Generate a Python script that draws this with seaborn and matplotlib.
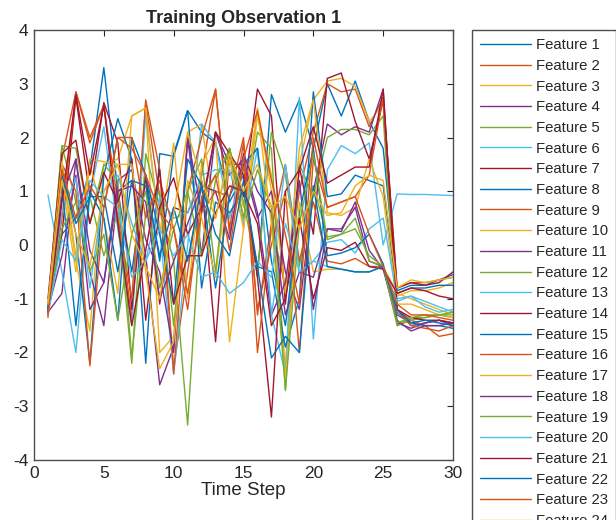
import numpy as np
import pandas as pd
import matplotlib
matplotlib.use("Agg")
import matplotlib.pyplot as plt
import seaborn as sns

steps = list(range(1, 31))

f01 = [-1.2, 0.2, 0.5, 1.4, 3.3, 1.0, -0.5, 1.3, -0.3, 1.7, 2.5, 2.1, 1.9, 0.8, 1.3, -0.6, 2.8, 2.1, 2.7, 1.8, 3.0, 2.4, 3.05, 2.3, 1.8, -0.85, -0.75, -0.75, -0.65, -0.55]
f02 = [-1.3, 1.6, 2.85, 1.9, 2.6, 0.8, -1.4, 2.65, 0.9, -2.3, -0.5, 1.3, 2.9, 0.3, 1.9, -1.3, 0.4, -0.8, 1.0, 2.1, 3.0, 2.85, 2.9, 2.2, 2.75, -0.8, -0.7, -0.7, -0.65, -0.6]
f03 = [-1.2, 1.4, -0.3, -1.6, 1.5, 1.6, 2.4, 2.55, -2.0, -1.7, 2.1, 2.25, 0.5, 1.8, 0.7, 2.55, 1.0, -2.3, 1.5, 2.7, 3.05, 3.1, 2.95, 2.3, 2.6, -0.95, -0.85, -0.85, -0.8, -0.7]
f04 = [-1.25, -0.9, 1.6, -0.5, -1.5, 1.0, 1.2, -0.2, -2.6, -1.9, 2.0, -0.2, 2.1, 1.5, 1.5, 0.5, 1.0, -0.5, -1.2, 1.0, 2.25, 2.05, 2.2, 2.1, 2.9, -1.2, -1.5, -1.45, -1.4, -1.45]
f05 = [-1.15, 1.85, 0.8, 0.9, -0.2, 0.6, -2.2, 1.7, 0.7, -0.3, -3.35, 0.8, 1.3, 1.7, 0.5, 2.1, 1.8, -2.7, 1.5, 0.9, 2.0, 2.15, 2.15, 2.05, 2.4, -1.5, -1.35, -1.35, -1.3, -1.35]
f06 = [0.93, -0.5, -2.0, 0.9, 2.2, 0.3, -1.5, 2.45, 0.3, -2.4, 0.0, 2.25, 1.9, 0.5, 1.4, 1.8, -1.3, -2.4, 2.75, -1.75, 1.4, 1.85, 1.7, 1.9, 0.0, 0.95, 0.94, 0.94, 0.93, 0.92]
f07 = [-1.1, 0.2, 2.75, 0.9, 2.65, 1.9, -1.2, 1.3, -1.1, 0.7, 0.6, 1.2, -1.8, 1.7, 0.9, 2.9, 2.4, -1.1, 1.45, 0.2, 3.1, 3.2, 2.3, 1.6, 2.7, -0.8, -0.7, -0.75, -0.7, -0.5]
f08 = [-1.2, 1.5, 0.2, -2.2, 1.3, 2.35, 1.6, -2.2, 1.7, 1.65, 2.5, -0.8, 0.8, 0.6, 1.0, -0.4, -0.5, -1.9, -1.0, 2.85, 0.9, 0.95, 1.3, 1.2, 1.1, -0.9, -0.8, -0.8, -0.75, -0.75]
f09 = [-1.3, 0.5, 2.85, 2.0, 2.6, 0.5, -1.0, 2.7, 1.4, -2.4, 1.0, 2.0, 2.9, 0.2, 1.5, -1.2, 0.0, 1.0, -2.0, 1.6, 0.7, 0.8, 0.9, 1.3, 2.75, -1.2, -1.4, -1.5, -1.7, -1.65]
f10 = [-1.25, 1.2, -0.5, 1.5, 0.5, -0.9, 2.4, 2.55, 0.2, 1.9, -1.0, 1.5, 2.0, -1.8, 0.3, 2.4, 1.3, -0.9, 1.8, 2.7, 0.6, 0.55, 0.7, 1.6, 0.9, -1.1, -1.1, -1.2, -1.3, -1.35]
f11 = [-1.2, -0.2, 1.3, -1.2, -0.7, 1.2, 1.4, 0.1, -0.5, -2.0, 2.0, 0.6, 2.1, 1.3, 1.6, 0.6, -1.3, -0.7, 1.2, -1.2, 0.3, 0.3, 0.7, -0.3, -0.4, -1.45, -1.55, -1.45, -1.4, -1.5]
f12 = [-1.15, 1.85, 1.8, 0.4, 1.5, 1.2, -2.1, 0.6, 1.0, -1.5, 1.0, -0.2, 1.2, 1.8, 0.8, -0.5, 2.1, 1.3, -0.4, 1.1, 0.15, 0.2, 0.5, -0.3, -0.4, -1.5, -1.4, -1.35, -1.3, -1.3]
f13 = [-1.2, 0.6, 1.25, -0.8, 1.0, 1.3, 0.4, -0.3, 0.9, 0.5, 0.6, 1.3, 1.4, 1.4, 0.4, 1.8, -1.3, 0.4, -0.5, -0.3, 0.05, 0.1, -0.15, 0.3, 0.5, -1.0, -0.95, -1.05, -1.15, -1.25]
f14 = [-1.0, 1.7, 1.95, 0.4, 1.35, 0.8, 1.6, -1.4, 0.7, 1.25, 0.2, 0.7, 2.1, 1.7, 1.3, -0.6, -3.2, 1.0, 1.4, 2.2, 1.15, 1.3, 1.45, 1.45, 2.9, -1.2, -1.35, -1.4, -1.4, -1.45]
f15 = [-1.2, 1.1, -1.5, 1.0, 0.5, -1.4, 2.0, 1.3, 0.2, -1.1, 1.6, 1.1, -0.8, 0.9, 1.5, 1.8, -0.3, -1.5, 0.6, 1.8, -0.2, -0.15, -0.05, 0.2, -0.35, -1.3, -1.45, -1.5, -1.5, -1.55]
f16 = [-1.35, 1.5, 1.0, -2.25, 0.7, 2.0, 2.0, 0.5, 1.2, 0.3, -0.9, 0.6, 1.0, 0.9, 2.0, -2.0, 0.3, 1.5, -0.3, 0.8, -0.3, -0.35, -0.25, -0.4, -0.4, -1.25, -1.5, -1.55, -1.6, -1.5]
f17 = [-1.1, 1.55, -0.2, 1.6, 1.55, 1.5, 1.5, -0.5, -2.3, -1.8, 1.2, 0.5, -0.6, 1.6, 0.3, 2.5, 0.4, -2.5, 0.8, -0.5, -0.45, -0.45, -0.5, -0.5, -0.4, -0.9, -1.0, -1.1, -1.2, -1.3]
f18 = [-1.2, 0.9, 1.6, -0.1, -0.7, 1.0, 1.1, 0.8, -1.0, -0.3, 0.4, 1.1, 1.0, 0.1, 1.7, 1.0, 0.6, -1.3, -0.5, -0.6, 0.3, 0.25, 0.8, -0.1, -0.45, -1.4, -1.6, -1.5, -1.5, -1.45]
f19 = [-1.2, 0.3, 0.8, -0.5, 0.2, -1.4, 0.2, 1.0, -0.8, 0.3, 1.0, 1.6, -0.5, 1.8, 0.5, 1.4, 0.7, -2.7, 0.4, 1.7, 0.1, 0.2, 0.3, -0.2, -0.4, -1.45, -1.35, -1.3, -1.3, -1.25]
f20 = [-1.3, 0.1, -0.3, 1.2, 0.9, 0.7, -0.6, -0.3, 0.3, -0.2, 0.2, -0.6, -0.5, -0.9, -0.7, -0.3, -0.6, 1.5, -0.5, -0.3, -0.4, -0.45, -0.5, -0.5, -0.4, -1.05, -0.95, -1.15, -1.25, -1.2]
f21 = [-1.25, 0.8, 2.8, 1.3, 2.6, 0.4, -1.5, -0.1, 1.4, -1.1, -0.2, -0.2, 0.6, 1.1, 1.0, 0.4, -1.5, -1.0, 0.5, -1.0, -0.05, -0.1, 0.05, -0.4, -0.45, -0.9, -0.8, -0.85, -0.95, -1.0]
f22 = [-1.2, 1.3, 0.4, 0.9, 0.9, -0.5, 1.2, 1.1, -0.2, 0.7, -0.3, 1.1, 0.2, -0.2, 1.2, -0.4, -2.1, -1.7, -2.0, 1.1, -0.4, -0.45, -0.5, -0.5, -0.4, -1.2, -1.45, -1.4, -1.45, -1.5]
f23 = [-1.3, 1.4, 0.5, 1.1, 0.7, 2.0, 1.8, 1.3, 0.6, 0.3, -1.2, 0.9, 1.3, -0.1, 1.6, 2.5, 1.2, 0.2, -1.1, 2.0, 0.7, 0.8, 0.9, 0.2, -0.4, -1.1, -1.3, -1.3, -1.35, -1.4]
f24 = [-1.1, 1.2, 0.2, -0.4, 1.0, 1.5, 0.2, -0.4, -1.0, 0.6, 2.1, 1.2, 0.5, 1.7, 1.0, 1.5, 0.7, 0.9, 0.3, 1.0, 0.55, 0.6, 1.1, 1.3, 1.2, -0.8, -0.65, -0.7, -0.65, -0.6]

series = [f01, f02, f03, f04, f05, f06, f07, f08, f09, f10, f11, f12,
          f13, f14, f15, f16, f17, f18, f19, f20, f21, f22, f23, f24]
feature_names = [f"Feature {i}" for i in range(1, len(series) + 1)]

title = "Training Observation 1"
xlabel = "Time Step"
xticks = [0, 5, 10, 15, 20, 25, 30]
yticks = [-4, -3, -2, -1, 0, 1, 2, 3, 4]

matlab_colors = ["#0072BD", "#D95319", "#EDB120", "#7E2F8E",
                 "#77AC30", "#4DBEEE", "#A2142F"]
palette = [matlab_colors[i % 7] for i in range(len(series))]

rows = []
for name, vals in zip(feature_names, series):
    for s, v in zip(steps, vals):
        rows.append({"step": s, "value": v, "feature": name})
df = pd.DataFrame(rows)

sns.set_style("white")
plt.rcParams["font.family"] = ["Liberation Sans", "DejaVu Sans"]

fig = plt.figure(figsize=(6.16, 5.2), dpi=100)
ax = fig.add_axes([34 / 616, 1 - 460 / 520, (453 - 34) / 616, (460 - 30) / 520])

sns.lineplot(data=df, x="step", y="value", hue="feature", hue_order=feature_names,
             palette=palette, linewidth=1.0, ax=ax, legend=True, sort=False,
             estimator=None)

ax.set_xlim(0, 30)
ax.set_ylim(-4, 4)
ax.set_xticks(xticks)
ax.set_yticks(yticks)
ax.set_xticklabels([str(t) for t in xticks])
ax.set_yticklabels([str(t) for t in yticks])
ax.tick_params(direction="in", length=4, width=0.8, top=True, right=True,
               labelsize=12.5, colors="#262626", pad=4)
for sp in ax.spines.values():
    sp.set_visible(True)
    sp.set_color("#4d4d4d")
    sp.set_linewidth(1.0)
ax.set_xlabel(xlabel, fontsize=13.5, color="#262626", labelpad=1)
ax.set_ylabel("")
ax.set_title(title, fontsize=13, fontweight="bold", color="#262626", pad=5)

handles, labels = ax.get_legend_handles_labels()
if ax.get_legend() is not None:
    ax.get_legend().remove()
leg = fig.legend(handles, labels, loc="upper left",
                 bbox_to_anchor=(472 / 616, 1 - 30 / 520),
                 bbox_transform=fig.transFigure, borderaxespad=0,
                 fontsize=10.7, labelspacing=0.45, handlelength=3.4,
                 handletextpad=0.35, borderpad=0.55, fancybox=False,
                 framealpha=1, edgecolor="#4d4d4d")
leg.get_frame().set_linewidth(1.0)
for t in leg.get_texts():
    t.set_color("#262626")

fig.savefig("out.png", dpi=100)
